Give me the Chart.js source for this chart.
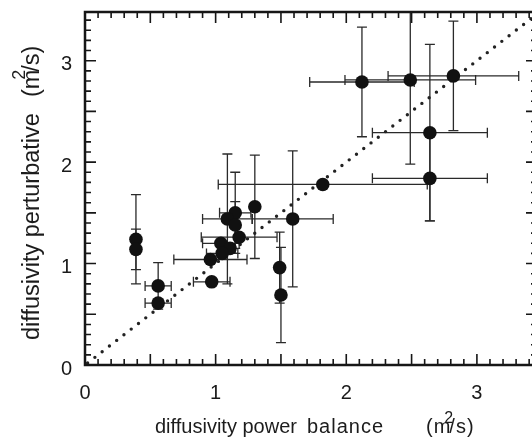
<!DOCTYPE html>
<html>
<head>
<meta charset="utf-8">
<script src="https://cdn.jsdelivr.net/npm/chart.js@4"></script>
<style>
html,body{margin:0;padding:0;background:#fff;overflow:hidden;width:532px;height:443px;}
#wrap{width:545px;height:443px;position:relative;}
canvas{display:block;}
</style>
</head>
<body>
<div id="wrap"><canvas id="c" width="545" height="443"></canvas></div>
<script>
// ---- data ----
const xValues  = [2.12, 2.49, 2.82, 2.64, 2.64, 1.82, 1.59, 1.30, 1.15, 1.09, 1.15, 1.18, 1.04, 1.11, 1.05, 0.96, 0.97, 1.49, 1.50, 0.39, 0.39, 0.56, 0.56];
const yValues  = [2.79, 2.81, 2.85, 2.29, 1.84, 1.78, 1.44, 1.56, 1.50, 1.44, 1.38, 1.26, 1.20, 1.15, 1.10, 1.04, 0.82, 0.96, 0.69, 1.24, 1.14, 0.78, 0.61];
const xErrors  = [0.40, 0.50, 0.50, 0.44, 0.44, 0.80, 0.31, 0.00, 0.12, 0.19, 0.00, 0.29, 0.14, 0.00, 0.12, 0.28, 0.14, 0.00, 0.00, 0.00, 0.00, 0.10, 0.10];
const yErrors  = [0.54, 0.83, 0.54, 0.87, 0.42, 0.00, 0.67, 0.51, 0.40, 0.64, 0.23, 0.00, 0.00, 0.00, 0.00, 0.00, 0.00, 0.35, 0.47, 0.44, 0.20, 0.23, 0.00];
const diagonal = [0.02, 3.6];
const tickLabels = ['0', '1', '2', '3'];
const xTitleWords = ['diffusivity power', 'balance'];
const yTitleWords = ['diffusivity perturbative'];
const unitText = ['(m', '/s)', '2'];

const INK = '#161616';
const FONT = 'Liberation Sans, Arial, Helvetica, sans-serif';

const errorBars = {
  id: 'errorBars',
  beforeDatasetsDraw(chart) {
    const {ctx, chartArea: a, scales: {x, y}} = chart;
    ctx.save();
    ctx.beginPath();
    ctx.rect(a.left, a.top, a.right - a.left, a.bottom - a.top);
    ctx.clip();
    ctx.strokeStyle = '#2a2a2a';
    ctx.lineWidth = 1.3;
    const cap = 5;
    xValues.forEach((xv, i) => {
      const yv = yValues[i];
      const px = x.getPixelForValue(xv), py = y.getPixelForValue(yv);
      if (xErrors[i] > 0) {
        const l = x.getPixelForValue(xv - xErrors[i]), r = x.getPixelForValue(xv + xErrors[i]);
        ctx.beginPath();
        ctx.moveTo(l, py); ctx.lineTo(r, py);
        ctx.moveTo(l, py - cap); ctx.lineTo(l, py + cap);
        ctx.moveTo(r, py - cap); ctx.lineTo(r, py + cap);
        ctx.stroke();
      }
      if (yErrors[i] > 0) {
        const t = y.getPixelForValue(yv + yErrors[i]), b = y.getPixelForValue(yv - yErrors[i]);
        ctx.beginPath();
        ctx.moveTo(px, t); ctx.lineTo(px, b);
        ctx.moveTo(px - cap, t); ctx.lineTo(px + cap, t);
        ctx.moveTo(px - cap, b); ctx.lineTo(px + cap, b);
        ctx.stroke();
      }
    });
    ctx.restore();
  }
};

const frame = {
  id: 'frame',
  afterDraw(chart) {
    const {ctx, chartArea: a, scales: {x, y}} = chart;
    ctx.save();
    ctx.strokeStyle = INK;
    ctx.lineWidth = 1.6;
    const minor = 6, major = 11;
    for (let k = 0; k <= 40; k++) {
      const v = k / 10;
      const len = (k % 5 === 0) ? major : minor;
      if (v <= x.max + 1e-9) {
        const px = x.getPixelForValue(v);
        ctx.beginPath();
        ctx.moveTo(px, a.bottom); ctx.lineTo(px, a.bottom - len);
        ctx.moveTo(px, a.top); ctx.lineTo(px, a.top + len);
        ctx.stroke();
      }
      if (v <= y.max + 1e-9) {
        const py = y.getPixelForValue(v);
        ctx.beginPath();
        ctx.moveTo(a.left, py); ctx.lineTo(a.left + len, py);
        ctx.moveTo(a.right, py); ctx.lineTo(a.right - len, py);
        ctx.stroke();
      }
    }
    ctx.lineWidth = 2.5;
    ctx.strokeRect(a.left, a.top, a.right - a.left, a.bottom - a.top);

    // axis titles
    ctx.fillStyle = '#1c1c1c';
    ctx.textBaseline = 'alphabetic';
    ctx.textAlign = 'left';
    ctx.font = '20px ' + FONT;
    const bx = 433;
    ctx.fillText(xTitleWords[0], 155, bx);
    if ('letterSpacing' in ctx) ctx.letterSpacing = '1px';
    ctx.fillText(xTitleWords[1], 307, bx);
    const ux = 426;
    ctx.fillText(unitText[0], ux, bx);
    const wm = ctx.measureText(unitText[0]).width;
    ctx.fillText(unitText[1], ux + wm - 2, bx);
    if ('letterSpacing' in ctx) ctx.letterSpacing = '0px';
    ctx.font = '16px ' + FONT;
    ctx.fillText(unitText[2], ux + wm - 7, bx - 10);

    // y title (rotated)
    ctx.save();
    ctx.translate(39, 340);
    ctx.rotate(-Math.PI / 2);
    ctx.font = '23.5px ' + FONT;
    ctx.fillText(yTitleWords[0], 0, 0);
    const uy = ctx.measureText(yTitleWords[0] + '  ').width + 3;
    ctx.fillText(unitText[0], uy, 0);
    const wm2 = ctx.measureText(unitText[0]).width;
    ctx.fillText(unitText[1], uy + wm2 - 2, 0);
    ctx.font = '18px ' + FONT;
    ctx.fillText(unitText[2], uy + wm2 - 10, -14);
    ctx.restore();

    ctx.restore();
  }
};

const intTicks = (s) => { s.ticks = tickLabels.map(t => ({value: Number(t)})); };

new Chart(document.getElementById('c'), {
  type: 'scatter',
  data: {
    datasets: [
      {
        type: 'line',
        data: diagonal.map(v => ({x: v, y: v})),
        borderColor: '#222',
        borderWidth: 3.4,
        borderDash: [0, 9.2],
        borderCapStyle: 'round',
        pointRadius: 0,
        fill: false,
        order: 2
      },
      {
        data: xValues.map((xv, i) => ({x: xv, y: yValues[i]})),
        pointRadius: 6.8,
        pointBackgroundColor: '#111',
        pointBorderColor: '#111',
        pointBorderWidth: 0,
        order: 1
      }
    ]
  },
  options: {
    responsive: false,
    animation: false,
    devicePixelRatio: 1,
    layout: {padding: {left: 0, top: 12, right: 8, bottom: 0}},
    plugins: {legend: {display: false}, tooltip: {enabled: false}},
    scales: {
      x: {
        type: 'linear', min: 0, max: 3.46,
        afterFit(s) { s.height = 78; s.paddingLeft = 0; s.paddingRight = 0; },
        afterBuildTicks: intTicks,
        grid: {display: false, drawTicks: false},
        border: {display: false},
        ticks: {padding: 16, font: {family: FONT, size: 20}, color: '#1a1a1a', callback: v => String(v), maxRotation: 0}
      },
      y: {
        type: 'linear', min: 0, max: 3.48,
        afterFit(s) { s.width = 85; s.paddingTop = 0; s.paddingBottom = 0; },
        afterBuildTicks: intTicks,
        grid: {display: false, drawTicks: false},
        border: {display: false},
        ticks: {padding: 13, labelOffset: 4, font: {family: FONT, size: 20}, color: '#1a1a1a', callback: v => String(v)}
      }
    }
  },
  plugins: [errorBars, frame]
});
</script>
</body>
</html>
